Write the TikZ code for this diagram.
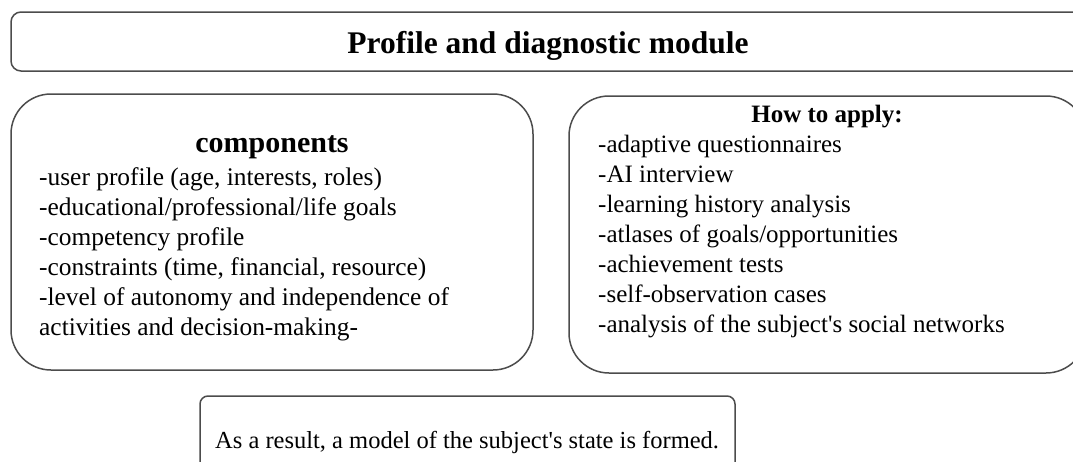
\documentclass[tikz,border=0pt]{standalone}
\usepackage{fontspec}
\setmainfont{Liberation Serif}
\begin{document}
\begin{tikzpicture}[x=1pt,y=-1pt,
  frame/.style={draw=black!70, line width=1.5pt, inner sep=0pt},
  body/.style={font=\fontsize{#1}{30}\selectfont, inner sep=0pt, anchor=base west},
  body/.default=25,
  heading/.style={font=\fontsize{#1}{#1}\selectfont\bfseries, inner sep=0pt, anchor=base}]
\useasboundingbox (0,0) rectangle (1073,461);
\clip (0,0) rectangle (1073,461);

% frames
\node[frame, rounded corners=10pt, minimum width=1075pt, minimum height=59pt] (head) at (548.5,41.5) {};
\node[frame, rounded corners=40pt, minimum width=522pt, minimum height=276pt] (comp) at (272,232) {};
\node[frame, rounded corners=40pt, minimum width=517pt, minimum height=277pt] (apply) at (827.5,234.5) {};
\node[frame, rounded corners=8pt, minimum width=535pt, minimum height=84pt] (result) at (467.5,438) {};

% module title
\node[heading=31.5] (title) at (548,53) {Profile and diagnostic module};

% components
\node[heading=30] (comptitle) at (272,152) {components};
\foreach \t [count=\i] in {%
  -user profile (age{,} interests{,} roles),
  -educational/professional/life goals,
  -competency profile,
  -constraints (time{,} financial{,} resource),
  -level of autonomy and independence of,
  activities and decision-making-}
  \node[body=25.4] (c\i) at (39,155+30*\i) {\t};

% how to apply
\node[heading=25] (applytitle) at (827,122) {How to apply:};
\foreach \t [count=\i] in {%
  -adaptive questionnaires,
  -AI interview,
  -learning history analysis,
  -atlases of goals/opportunities,
  -achievement tests,
  -self-observation cases,
  -analysis of the subject\textquotesingle s social networks}
  \node[body] (a\i) at (598,122+30*\i) {\t};

% outcome
\node[body=24.5] (res) at (215,448) {As a result, a model of the subject\textquotesingle s state is formed.};
\end{tikzpicture}
\end{document}
